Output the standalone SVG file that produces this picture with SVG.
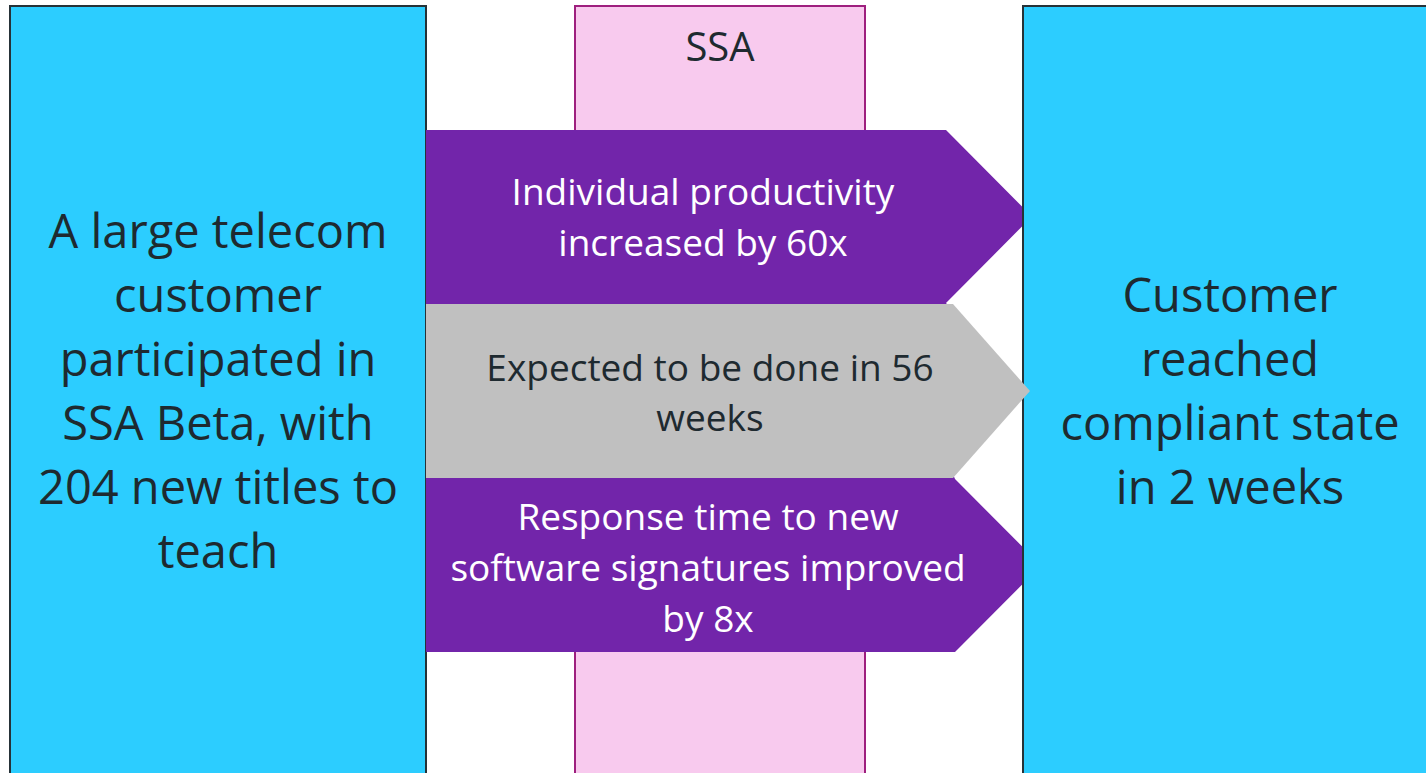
<svg xmlns="http://www.w3.org/2000/svg" width="1426" height="773" viewBox="0 0 1426 773">
<style>
.box{fill:#2ccdff;stroke:#263238;stroke-width:2}
.col{fill:#f8caee;stroke:#9e1f7e;stroke-width:2}
.big{font-family:"Open Sans","Noto Sans",sans-serif;font-size:47px;fill:#1e2a30;text-anchor:middle}
.mid{font-family:"Open Sans","Noto Sans",sans-serif;font-size:37px;text-anchor:middle}
.w{fill:#ffffff}
.d{fill:#1e2a30}
</style>
<rect width="1426" height="773" fill="#ffffff"/>
<g id="left-box">
<rect class="box" x="10" y="6" width="416" height="780"/>
<text class="big"><tspan x="218" y="248">A large telecom</tspan><tspan x="218" y="312">customer</tspan><tspan x="218" y="376">participated in</tspan><tspan x="218" y="440">SSA Beta, with</tspan><tspan x="218" y="504">204 new titles to</tspan><tspan x="218" y="568">teach</tspan></text>
</g>
<g id="ssa-column">
<rect class="col" x="575" y="6" width="290" height="780"/>
<text class="mid d" x="720" y="61" style="font-size:40px">SSA</text>
</g>
<g id="connectors">
<g id="arrow-productivity">
<polygon points="426,130 946,130 1032,216.5 946,303 952,310 426,310" fill="#7225aa"/>
<text class="mid w"><tspan x="703" y="205">Individual productivity</tspan><tspan x="703" y="256">increased by 60x</tspan></text>
</g>
<g id="arrow-response">
<polygon points="426,472 952,472 955,479 1041,565.5 955,652 426,652" fill="#7225aa"/>
<text class="mid w"><tspan x="708" y="530">Response time to new</tspan><tspan x="708" y="581">software signatures improved</tspan><tspan x="708" y="632">by 8x</tspan></text>
</g>
</g>
<g id="right-box">
<rect class="box" x="1023" y="6" width="420" height="780"/>
<text class="big"><tspan x="1230" y="312">Customer</tspan><tspan x="1230" y="376">reached</tspan><tspan x="1230" y="440">compliant state</tspan><tspan x="1230" y="504">in 2 weeks</tspan></text>
</g>
<g id="arrow-expected">
<polygon points="426,304 953,304 1030,391 953,478 426,478" fill="#c0c0c0"/>
<text class="mid d"><tspan x="710" y="381">Expected to be done in 56</tspan><tspan x="710" y="431">weeks</tspan></text>
</g>
</svg>
